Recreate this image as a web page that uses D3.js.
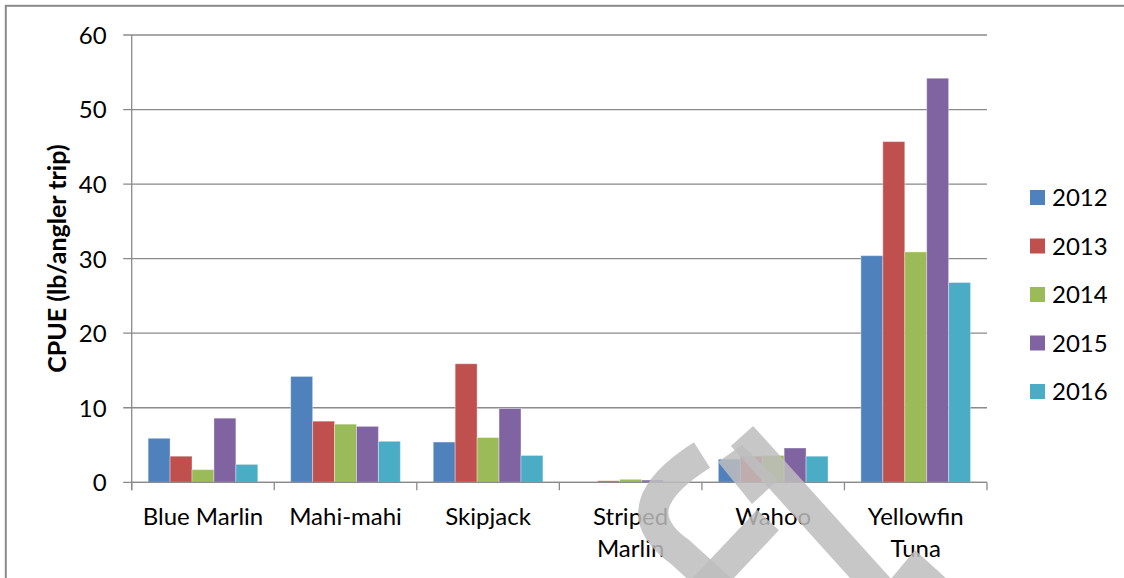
<!DOCTYPE html>
<html><head><meta charset="utf-8">
<script src="https://cdn.jsdelivr.net/npm/d3@7"></script>
<style>
html,body{margin:0;padding:0;background:#fff;}
svg{display:block;}
text{font-family:Lato,"Carlito",Calibri,sans-serif;fill:#000;}
</style></head>
<body>
<svg id="c" width="1124" height="578"></svg>
<script>
const categories = ["Blue Marlin","Mahi-mahi","Skipjack","Striped Marlin","Wahoo","Yellowfin Tuna"];
const categoryLines = [["Blue Marlin"],["Mahi-mahi"],["Skipjack"],["Striped","Marlin"],["Wahoo"],["Yellowfin","Tuna"]];
const years = ["2012","2013","2014","2015","2016"];
const v2012 = [5.9, 14.2, 5.4, 0.0, 3.1, 30.4];
const v2013 = [3.5, 8.2, 15.9, 0.2, 3.5, 45.7];
const v2014 = [1.7, 7.8, 6.0, 0.4, 3.6, 30.9];
const v2015 = [8.6, 7.5, 9.9, 0.3, 4.6, 54.2];
const v2016 = [2.4, 5.5, 3.6, 0.0, 3.5, 26.8];
const yTicks = [0,10,20,30,40,50,60];
const colors = ["#4F81BD","#C0504D","#9BBB59","#8064A2","#4BACC6"];
const yTitle = "CPUE (lb/angler trip)";

(function(){
const series = [v2012,v2013,v2014,v2015,v2016];
const svg = d3.select("#c");

// outer frame
svg.append("rect").attr("x",5.8).attr("y",5.8).attr("width",1200).attr("height",700)
  .attr("fill","none").attr("stroke","#8a8a8a").attr("stroke-width",2);

const pL = 131.7, pR = 987, pT = 35, pB = 482.3;
const x = d3.scaleBand().domain(categories).range([pL,pR]);
const bw = x.bandwidth();
const w = bw/6.5;
const xs = d3.scaleBand().domain(years).range([0.75*w, bw-0.75*w]);
const y = d3.scaleLinear().domain([0,60]).range([pB,pT]);

// gridlines
svg.append("g").selectAll("line").data(yTicks).join("line")
  .attr("x1",pL-8.5).attr("x2",pR).attr("y1",d=>y(d)).attr("y2",d=>y(d))
  .attr("stroke","#8a8a8a").attr("stroke-width",1.3);

// y axis
const yAxis = d3.axisLeft(y).tickValues(yTicks).tickSize(0).tickPadding(25);
const ga = svg.append("g").attr("transform",`translate(${pL},0)`).call(yAxis);
ga.select(".domain").remove();
ga.selectAll("text").attr("font-size",24).attr("font-family","Lato").attr("fill","#000").attr("dy","0.35em");
svg.append("line").attr("x1",pL).attr("x2",pL).attr("y1",pT).attr("y2",pB+8)
  .attr("stroke","#8a8a8a").attr("stroke-width",1.3);

// bars
const g = svg.append("g");
categories.forEach((c,ci)=>{
  series.forEach((s,si)=>{
    g.append("rect")
      .attr("x",x(c)+xs(years[si]))
      .attr("y",y(s[ci]))
      .attr("width",xs.bandwidth())
      .attr("height",Math.max(0,y(0)-y(s[ci])))
      .attr("fill",colors[si])
      .attr("stroke","rgba(255,255,255,0.35)").attr("stroke-width",1);
  });
});

// x axis line + ticks
svg.append("line").attr("x1",pL).attr("x2",pR).attr("y1",pB).attr("y2",pB)
  .attr("stroke","#8a8a8a").attr("stroke-width",1.3);
const bounds = categories.map(c=>x(c)).concat([pR]);
svg.append("g").selectAll("line").data(bounds).join("line")
  .attr("x1",d=>d).attr("x2",d=>d).attr("y1",pB).attr("y2",pB+8)
  .attr("stroke","#8a8a8a").attr("stroke-width",1.3);

// category labels
categories.forEach((c,ci)=>{
  const t = svg.append("text").attr("text-anchor","middle").attr("font-size",24)
    .attr("x",x(c)+bw/2).attr("y",525);
  categoryLines[ci].forEach((ln,li)=>{
    t.append("tspan").attr("x",x(c)+bw/2).attr("dy",li===0?0:32).text(ln);
  });
});

// y title
svg.append("text").attr("transform",`translate(66,${(pT+pB)/2}) rotate(-90)`)
  .attr("text-anchor","middle").attr("font-size",25).attr("font-weight","bold").text(yTitle);

// legend
const lg = svg.append("g");
years.forEach((yr,i)=>{
  const cy = 197.5 + i*48.5;
  lg.append("rect").attr("x",1030).attr("y",cy-7.5).attr("width",15).attr("height",15).attr("fill",colors[i]);
  lg.append("text").attr("x",1052).attr("y",cy).attr("dy","0.36em").attr("font-size",24).text(yr);
});

// watermark approximation
const wmc = "#bdbdbd";
const wm = svg.append("g").attr("fill","none").attr("stroke",wmc).attr("stroke-opacity",0.85)
  .attr("stroke-width",30);
wm.append("path").attr("d","M702 455 C 650 488, 635 520, 680 552 L 722 590");
wm.append("path").attr("d","M742 436 L 890 600");
wm.append("path").attr("d","M768 520 L 700 592");
wm.append("path").attr("d","M718 462 L 742 445 L 778 480 L 752 504 Z").attr("stroke","none").attr("fill",wmc).attr("fill-opacity",0.85);
wm.append("path").attr("d","M890 580 L 915 550 L 948 580 Z").attr("stroke","none").attr("fill",wmc).attr("fill-opacity",0.85);
})();
</script>
</body></html>
